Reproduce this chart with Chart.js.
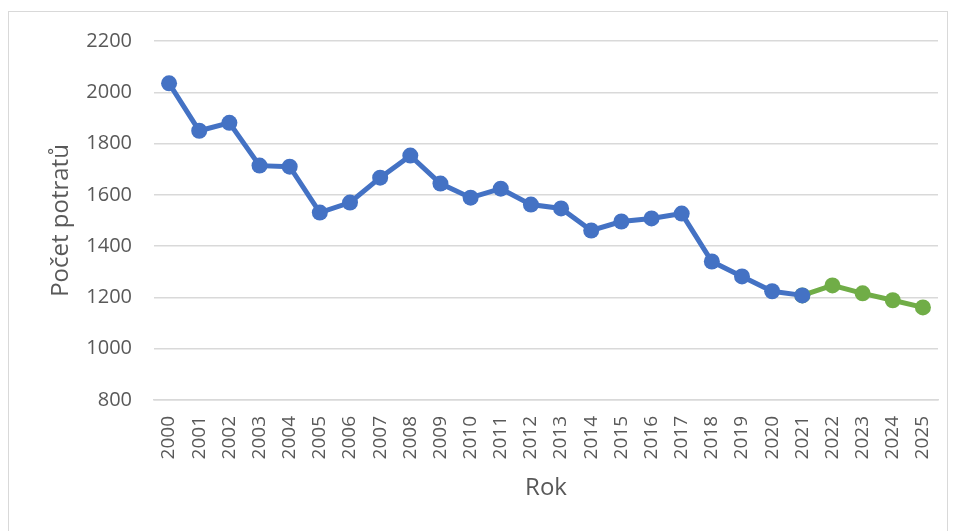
<!DOCTYPE html>
<html>
<head>
<meta charset="utf-8">
<script src="https://cdn.jsdelivr.net/npm/chart.js@4/dist/chart.umd.min.js"></script>
<style>
  html, body { margin: 0; padding: 0; background: #fff; }
  #wrap { position: relative; width: 955px; height: 531px; }
  #frame { position: absolute; left: 8px; top: 11px; width: 940px; height: 530px; border: 1px solid #d9d9d9; box-sizing: border-box; }
  canvas { position: absolute; left: 0; top: 0; }
</style>
</head>
<body>
<div id="wrap">
  <div id="frame"></div>
  <canvas id="chart" width="955" height="531"></canvas>
</div>
<script>
// data
const years = ["2000", "2001", "2002", "2003", "2004", "2005", "2006", "2007", "2008", "2009",
  "2010", "2011", "2012", "2013", "2014", "2015", "2016", "2017", "2018", "2019",
  "2020", "2021", "2022", "2023", "2024", "2025"];
const actual = [2035, 1850, 1881, 1714, 1710, 1531, 1570, 1667, 1753, 1644,
  1589, 1624, 1562, 1547, 1461, 1496, 1508, 1527, 1340, 1282, 1224, 1208];
// forecast starts from the last observed year (2021)
const forecast = [1208, 1247, 1216, 1189, 1161];
const yTicks = [800, 1000, 1200, 1400, 1600, 1800, 2000, 2200];

const blue = "#4472C4";
const green = "#70AD47";
const textColor = "#595959";
const font = "'Open Sans', sans-serif";

const actualData = years.map((y, i) => i < actual.length ? actual[i] : null);
const forecastStart = actual.length - 1;
const forecastData = years.map((y, i) => i >= forecastStart ? forecast[i - forecastStart] : null);

new Chart(document.getElementById("chart").getContext("2d"), {
  type: "line",
  data: {
    labels: years,
    datasets: [
      {
        label: "Skutečnost",
        data: actualData,
        borderColor: blue,
        backgroundColor: blue,
        borderWidth: 5,
        pointRadius: 8,
        pointBorderWidth: 0,
        tension: 0
      },
      {
        label: "Odhad",
        data: forecastData,
        borderColor: green,
        backgroundColor: green,
        borderWidth: 5,
        pointRadius: 8,
        pointBorderWidth: 0,
        tension: 0
      }
    ]
  },
  options: {
    responsive: false,
    animation: false,
    layout: { padding: { left: 47, right: 17, top: 41, bottom: 28 } },
    plugins: {
      legend: { display: false },
      tooltip: { enabled: false }
    },
    scales: {
      x: {
        offset: true,
        afterFit: axis => { axis.height = 103; axis.paddingLeft = 0; axis.paddingRight = 0; },
        grid: { display: false, drawTicks: false },
        border: { display: true, color: "#d9d9d9", width: 1.5 },
        ticks: {
          color: textColor,
          font: { family: font, size: 19 },
          minRotation: 90,
          maxRotation: 90,
          autoSkip: false,
          padding: 16
        },
        title: {
          display: true,
          text: "Rok",
          color: textColor,
          font: { family: font, size: 24 },
          padding: { top: 10, bottom: 0 }
        }
      },
      y: {
        min: 800,
        max: 2200,
        afterBuildTicks: axis => { axis.ticks = yTicks.map(v => ({ value: v })); },
        afterFit: axis => { axis.width = 107; axis.paddingTop = 0; axis.paddingBottom = 0; },
        grid: { color: "#d9d9d9", lineWidth: 1.5, drawTicks: false },
        border: { display: false },
        ticks: {
          color: textColor,
          font: { family: font, size: 20 },
          padding: 22,
          callback: v => String(v)
        },
        title: {
          display: true,
          text: "Počet potratů",
          color: textColor,
          font: { family: font, size: 24 },
          padding: { top: 0, bottom: 8 }
        }
      }
    }
  }
});
</script>
</body>
</html>
